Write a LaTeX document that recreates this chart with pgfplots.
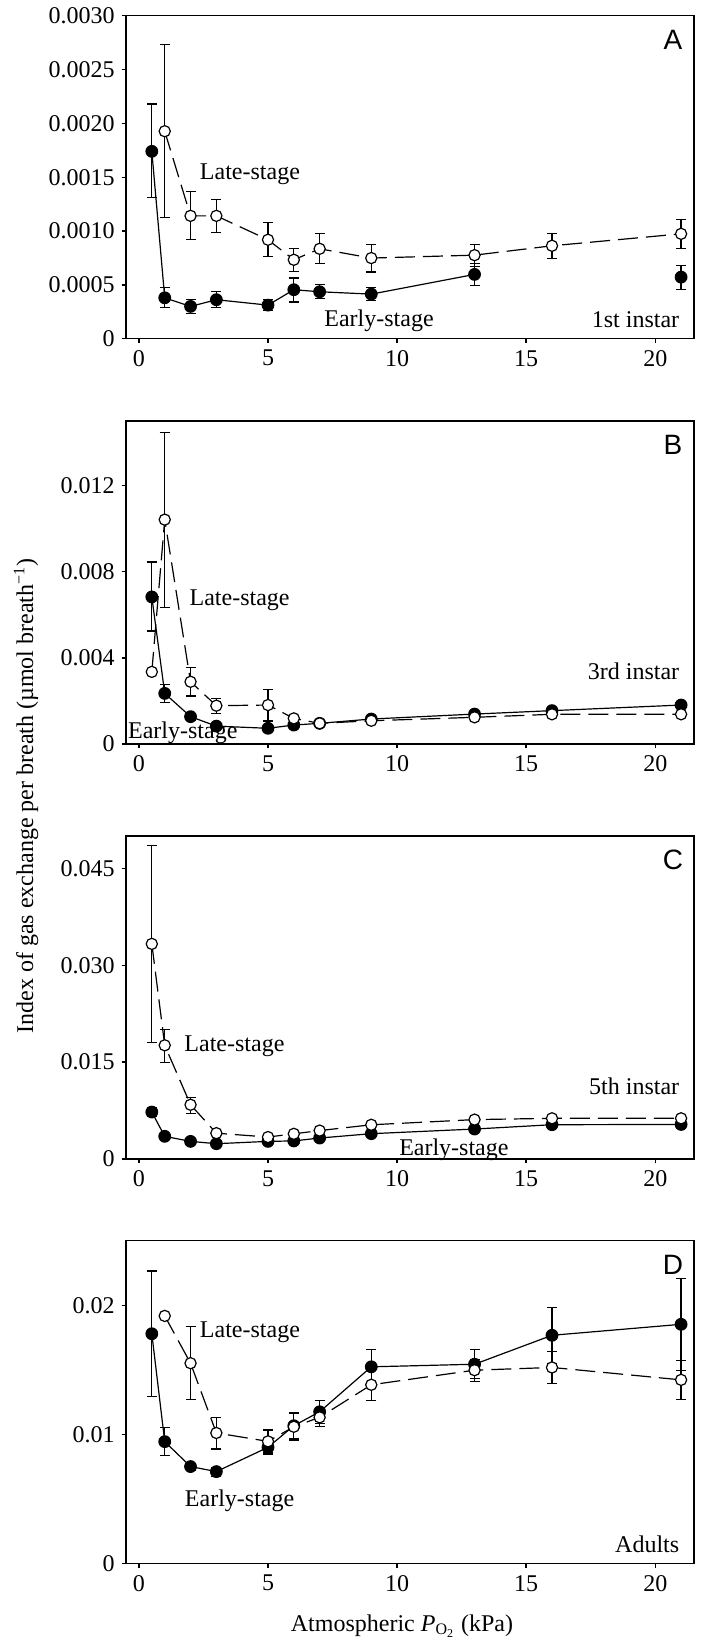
\documentclass[border=0pt]{standalone}
\usepackage{fontspec}
\setmainfont{Liberation Serif}
\newfontfamily\panelfont{Liberation Sans}
\usepackage{pgfplots}
\usepackage{pgfplotstable}
\pgfplotsset{compat=1.18}

\newcommand\fs{\fontsize{12}{14}\selectfont}

% columns: PO2 (kPa), value, error up, error down
\pgfplotstableread{
x y ep em
0.5 0.00174 0.00044 0.00043
1 0.00038 0.000093 0.000092
2 0.00030 0.000065 0.000068
3 0.000362 0.000077 0.000074
5 0.000312 0.000053 0.000049
6 0.000455 0.000108 0.000115
7 0.000436 0.000065 0.000065
9 0.000414 0.000059 0.000058
13 0.000597 0.000099 0.000102
}\earlyA
\pgfplotstableread{
x y ep em
21 0.000572 0.000108 0.000117
}\earlyAb
\pgfplotstableread{
x y ep em
1 0.001927 0.000804 0.000798
2 0.001141 0.000229 0.000222
3 0.001141 0.000149 0.000151
5 0.000919 0.000157 0.000155
6 0.000733 0.000102 0.000108
7 0.000835 0.000139 0.000139
9 0.000749 0.000123 0.000130
13 0.000776 0.000099 0.000102
16 0.000863 0.000117 0.000121
21 0.000974 0.000133 0.000139
}\lateA

\pgfplotstableread{
x y ep em
0.5 0.00683 0.00162 0.00158
1 0.00235 0.00043 0.00043
2 0.00127 0.00015 0.00016
3 0.00083 0.0001 0.0001
5 0.00073 0.0001 0.0001
6 0.00088 0.0001 0.0001
7 0.00096 0.0001 0.0001
9 0.00116 0.0001 0.0001
13 0.00139 0.0001 0.0001
16 0.00155 0.0001 0.0001
21 0.00181 0.0001 0.0001
}\earlyB
\pgfplotstableread{
x y ep em
0.5 0.00335 0 0
1 0.01042 0.00406 0.00408
2 0.00289 0.00065 0.00066
3 0.00178 0.00034 0.00036
5 0.00181 0.00072 0.00074
6 0.00119 0 0
7 0.00096 0 0
9 0.00108 0 0
13 0.00124 0 0
16 0.00138 0 0
21 0.00138 0 0
}\lateB

\pgfplotstableread{
x y ep em
0.5 0.00727 0.0007 0.0007
1 0.00351 0.0004 0.0004
2 0.00273 0.0003 0.0003
3 0.00237 0.0003 0.0003
5 0.00273 0.0003 0.0003
6 0.00280 0.0003 0.0003
7 0.00325 0.0003 0.0003
9 0.00392 0.0003 0.0003
13 0.00464 0.0003 0.0003
16 0.00531 0.0003 0.0003
21 0.00535 0.0003 0.0003
}\earlyC
\pgfplotstableread{
x y ep em
0.5 0.0333 0.0152 0.0153
1 0.0176 0.0024 0.0027
2 0.0084 0.0011 0.0013
3 0.0040 0.0003 0.0003
5 0.0034 0.0003 0.0003
6 0.0039 0.0003 0.0003
7 0.0044 0.0003 0.0003
9 0.0053 0.0003 0.0003
13 0.0061 0.0003 0.0003
16 0.0063 0.0003 0.0003
21 0.0063 0.0003 0.0003
}\lateC

\pgfplotstableread{
x y ep em
0.5 0.0178 0.00485 0.00488
1 0.00945 0.0011 0.00108
2 0.00752 0.0002 0.00026
3 0.00713 0.00033 0.00039
5 0.00901 0.00051 0.00052
6 0.01068 0.00098 0.00103
7 0.01176 0.0009 0.0009
9 0.01524 0.00136 0.00134
13 0.01544 0.00111 0.00108
16 0.01768 0.00214 0.00216
21 0.01853 0.00353 0.00355
}\earlyD
\pgfplotstableread{
x y ep em
1 0.01918 0 0
2 0.01552 0.00283 0.00283
3 0.01012 0.00121 0.00124
5 0.00947 0.00088 0.00085
6 0.0106 0.00106 0.00102
7 0.01133 0.00072 0.00073
9 0.01385 0.00108 0.00119
13 0.01498 0.00085 0.00088
16 0.01519 0.00121 0.00124
21 0.01423 0.00147 0.00149
}\lateD

\pgfplotsset{
  panel/.style={
    scale only axis, width=284pt, height=161.5pt, anchor=north west,
    xmin=-0.5, xmax=21.5, ymin=0,
    xtick={0,5,10,15,20}, xticklabels={0,5,10,15,20},
    tick pos=left, tick align=outside, major tick length=2.2pt,
    axis line style={line width=0.7pt}, tick style={line width=0.7pt, black},
    tick label style={font=\fs}, scaled y ticks=false, clip=false,
    every axis plot/.append style={line width=0.6pt},
  },
  errs/.style={black, only marks, mark=none, forget plot,
    error bars/.cd, y dir=both, y explicit,
    error bar style={line width=0.6pt, solid},
    error mark options={rotate=90, mark size=2.5pt, line width=0.6pt, solid}},
  early/.style={black, solid, mark=*, mark size=2.9pt},
  late/.style={black, dash pattern=on 10pt off 4pt, mark=*, mark size=2.8pt,
    mark options={solid, fill=white, draw=black, line width=0.6pt}},
}
\tikzset{letter/.style={font=\panelfont\fontsize{14}{16}\selectfont, anchor=center}}

\begin{document}
\begin{tikzpicture}
\path[use as bounding box] (0,0) rectangle (351pt,-819.5pt);

% A: 1st instar
\begin{axis}[panel, at={(63pt,-7.85pt)}, ymax=0.003,
  ytick={0,0.0005,0.001,0.0015,0.002,0.0025,0.003},
  yticklabels={0,0.0005,0.0010,0.0015,0.0020,0.0025,0.0030}]
\addplot[errs] table[x=x, y=y, y error plus=ep, y error minus=em] {\earlyA};
\addplot[errs] table[x=x, y=y, y error plus=ep, y error minus=em] {\earlyAb};
\addplot[errs] table[x=x, y=y, y error plus=ep, y error minus=em] {\lateA};
\addplot[early] table[x=x, y=y] {\earlyA};
\addplot[early, only marks] table[x=x, y=y] {\earlyAb};
\addplot[late] table[x=x, y=y] {\lateA};
\node[font=\fs] at (axis cs:4.3,0.00153) {Late-stage};
\node[font=\fs] at (axis cs:9.3,0.000164) {Early-stage};
\node[font=\fs, anchor=east] at (axis cs:21.2,0.000176) {1st instar};
\node[letter] at (rel axis cs:1,1) [xshift=-10.5pt, yshift=-12pt] {A};
\end{axis}

% B: 3rd instar
\begin{axis}[panel, at={(63pt,-210.5pt)}, ymax=0.015,
  ytick={0,0.004,0.008,0.012}, yticklabels={0,0.004,0.008,0.012}]
\addplot[errs] table[x=x, y=y, y error plus=ep, y error minus=em] {\earlyB};
\addplot[errs] table[x=x, y=y, y error plus=ep, y error minus=em] {\lateB};
\addplot[early] table[x=x, y=y] {\earlyB};
\addplot[late] table[x=x, y=y] {\lateB};
\node[font=\fs] at (axis cs:3.9,0.0067) {Late-stage};
\node[font=\fs] at (axis cs:1.7,0.0005) {Early-stage};
\node[font=\fs, anchor=east] at (axis cs:21.2,0.0034) {3rd instar};
\node[letter] at (rel axis cs:1,1) [xshift=-10.5pt, yshift=-12pt] {B};
\end{axis}

% C: 5th instar
\begin{axis}[panel, at={(63pt,-418pt)}, ymax=0.05,
  ytick={0,0.015,0.03,0.045}, yticklabels={0,0.015,0.030,0.045}]
\addplot[errs] table[x=x, y=y, y error plus=ep, y error minus=em] {\earlyC};
\addplot[errs] table[x=x, y=y, y error plus=ep, y error minus=em] {\lateC};
\addplot[early] table[x=x, y=y] {\earlyC};
\addplot[late] table[x=x, y=y] {\lateC};
\node[font=\fs] at (axis cs:3.7,0.0175) {Late-stage};
\node[font=\fs] at (axis cs:12.2,0.0015) {Early-stage};
\node[font=\fs, anchor=east] at (axis cs:21.2,0.0112) {5th instar};
\node[letter] at (rel axis cs:1,1) [xshift=-10.5pt, yshift=-12pt] {C};
\end{axis}

% D: adults
\begin{axis}[panel, at={(63pt,-620.35pt)}, ymax=0.025,
  ytick={0,0.01,0.02}, yticklabels={0,0.01,0.02},
  xlabel={Atmospheric \textit{P}\textsubscript{O\textsubscript{2}} (kPa)},
  xlabel style={font=\fs, at={(axis description cs:0.5,0)}, anchor=center,
    yshift=-31pt, xshift=-4pt}]
\addplot[errs] table[x=x, y=y, y error plus=ep, y error minus=em] {\earlyD};
\addplot[errs] table[x=x, y=y, y error plus=ep, y error minus=em] {\lateD};
\addplot[early] table[x=x, y=y] {\earlyD};
\addplot[late] table[x=x, y=y] {\lateD};
\node[font=\fs] at (axis cs:4.3,0.0179) {Late-stage};
\node[font=\fs] at (axis cs:3.9,0.0049) {Early-stage};
\node[font=\fs, anchor=east] at (axis cs:21.2,0.0015) {Adults};
\node[letter] at (rel axis cs:1,1) [xshift=-10.5pt, yshift=-12pt] {D};
\end{axis}

\node[rotate=90, font=\fs] at (13pt,-398pt)
  {Index of gas exchange per breath (µmol breath\textsuperscript{−1})};
\end{tikzpicture}
\end{document}
